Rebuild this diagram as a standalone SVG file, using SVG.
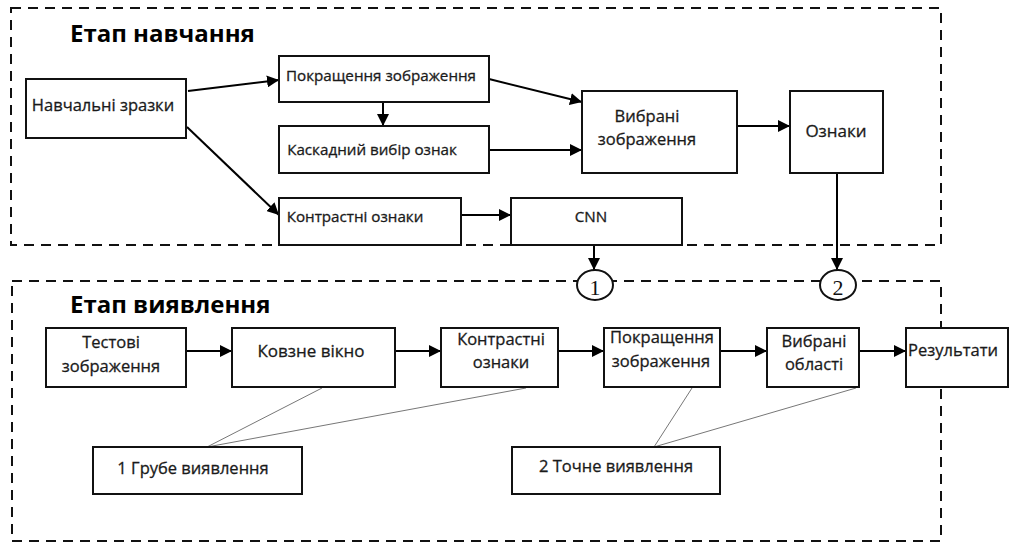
<svg xmlns="http://www.w3.org/2000/svg" width="1012" height="543" viewBox="0 0 1012 543">
  <defs>
    <marker id="arrow" viewBox="0 0 12 12" refX="12" refY="6" markerWidth="12" markerHeight="12" markerUnits="userSpaceOnUse" orient="auto">
      <path d="M0,0 L12,6 L0,12 Z" fill="#000"/>
    </marker>
    <style>
      .stage { fill: none; stroke: #111; stroke-width: 2; stroke-dasharray: 10 7; }
      .box { fill: #fff; stroke: #111; stroke-width: 2; }
      .lbl { font-family: "Open Sans", "Noto Sans", sans-serif; font-size: 16.5px; fill: #1a1a1a; stroke: #1a1a1a; stroke-width: 0.3; text-anchor: middle; }
      .sm { font-size: 15.2px; }
      .lg { font-size: 17px; }
      .title { font-family: "Open Sans", "Noto Sans", sans-serif; font-size: 24px; font-weight: bold; fill: #000; }
      .arr { fill: none; stroke: #000; stroke-width: 2; marker-end: url(#arrow); }
      .link { fill: none; stroke: #777; stroke-width: 1; }
      .hub { fill: #fff; stroke: #111; stroke-width: 2; }
      .num { font-family: "Liberation Serif", serif; font-size: 22px; fill: #111; text-anchor: middle; }
    </style>
  </defs>

  <!-- stage frames -->
  <g id="stage-training">
    <rect class="stage" x="11" y="8" width="930" height="237"/>
    <text class="title" x="70" y="42">Етап навчання</text>
  </g>
  <g id="stage-detection">
    <rect class="stage" x="12" y="281" width="929" height="260"/>
    <text class="title" x="70" y="313">Етап виявлення</text>
  </g>

  <!-- connectors -->
  <g id="connectors">
    <line class="arr" x1="188" y1="91" x2="279" y2="80"/>
    <line class="arr" x1="187" y1="127" x2="279" y2="215"/>
    <line class="arr" x1="383" y1="102" x2="383" y2="126"/>
    <line class="arr" x1="489" y1="79" x2="582" y2="102"/>
    <line class="arr" x1="489" y1="150" x2="582" y2="150"/>
    <line class="arr" x1="737" y1="126" x2="790" y2="126"/>
    <line class="arr" x1="461" y1="215" x2="511" y2="215"/>
    <line class="arr" x1="594" y1="245" x2="594" y2="270"/>
    <line class="arr" x1="837" y1="173" x2="837" y2="270"/>

    <line class="arr" x1="186" y1="351" x2="232" y2="351"/>
    <line class="arr" x1="395" y1="351" x2="441" y2="351"/>
    <line class="arr" x1="558" y1="351" x2="604" y2="351"/>
    <line class="arr" x1="720" y1="351" x2="767" y2="351"/>
    <line class="arr" x1="859" y1="351" x2="906" y2="351"/>

    <line class="link" x1="322" y1="388" x2="207" y2="447"/>
    <line class="link" x1="526" y1="388" x2="207" y2="447"/>
    <line class="link" x1="692" y1="388" x2="654" y2="447"/>
    <line class="link" x1="856" y1="388" x2="654" y2="447"/>
  </g>

  <!-- training nodes -->
  <g id="training-samples">
    <rect class="box" x="26" y="79" width="160" height="59"/>
    <text class="lbl" x="103" y="111">Навчальні зразки</text>
  </g>
  <g id="image-enhancement">
    <rect class="box" x="279" y="56" width="210" height="46"/>
    <text class="lbl sm" x="381" y="81">Покращення зображення</text>
  </g>
  <g id="cascade-selection">
    <rect class="box" x="279" y="126" width="210" height="47"/>
    <text class="lbl sm" x="372" y="155">Каскадний вибір ознак</text>
  </g>
  <g id="contrast-features">
    <rect class="box" x="279" y="198" width="182" height="47"/>
    <text class="lbl sm" x="355" y="222">Контрастні ознаки</text>
  </g>
  <g id="cnn">
    <rect class="box" x="511" y="198" width="171" height="47"/>
    <text class="lbl sm" x="591" y="222">CNN</text>
  </g>
  <g id="selected-images">
    <rect class="box" x="582" y="91" width="155" height="82"/>
    <text class="lbl" x="647" y="122">Вибрані</text>
    <text class="lbl" x="647" y="145">зображення</text>
  </g>
  <g id="features">
    <rect class="box" x="790" y="91" width="93" height="82"/>
    <text class="lbl lg" x="836" y="137">Ознаки</text>
  </g>

  <!-- hand-off points between stages -->
  <g id="hub-1">
    <ellipse class="hub" cx="595" cy="285" rx="18" ry="15"/>
    <text class="num" x="595" y="295">1</text>
  </g>
  <g id="hub-2">
    <ellipse class="hub" cx="838" cy="285" rx="18" ry="15"/>
    <text class="num" x="838" y="295">2</text>
  </g>

  <!-- detection nodes -->
  <g id="test-images">
    <rect class="box" x="46" y="328" width="140" height="59"/>
    <text class="lbl" x="111" y="348">Тестові</text>
    <text class="lbl" x="111" y="372">зображення</text>
  </g>
  <g id="sliding-window">
    <rect class="box" x="232" y="328" width="163" height="59"/>
    <text class="lbl lg" x="311" y="357">Ковзне вікно</text>
  </g>
  <g id="contrast-features-2">
    <rect class="box" x="441" y="328" width="117" height="59"/>
    <text class="lbl" x="501" y="345">Контрастні</text>
    <text class="lbl" x="501" y="368">ознаки</text>
  </g>
  <g id="image-enhancement-2">
    <rect class="box" x="604" y="328" width="116" height="59"/>
    <text class="lbl" x="662" y="343">Покращення</text>
    <text class="lbl" x="661" y="367">зображення</text>
  </g>
  <g id="selected-regions">
    <rect class="box" x="767" y="328" width="92" height="59"/>
    <text class="lbl" x="814" y="347">Вибрані</text>
    <text class="lbl" x="814" y="370">області</text>
  </g>
  <g id="results">
    <rect class="box" x="906" y="328" width="102" height="59"/>
    <text class="lbl" x="953" y="356">Результати</text>
  </g>
  <g id="coarse-detection">
    <rect class="box" x="93" y="447" width="209" height="47"/>
    <text class="lbl" x="193" y="474">1 Грубе виявлення</text>
  </g>
  <g id="fine-detection">
    <rect class="box" x="512" y="447" width="208" height="47"/>
    <text class="lbl" x="616" y="472">2 Точне виявлення</text>
  </g>
</svg>
